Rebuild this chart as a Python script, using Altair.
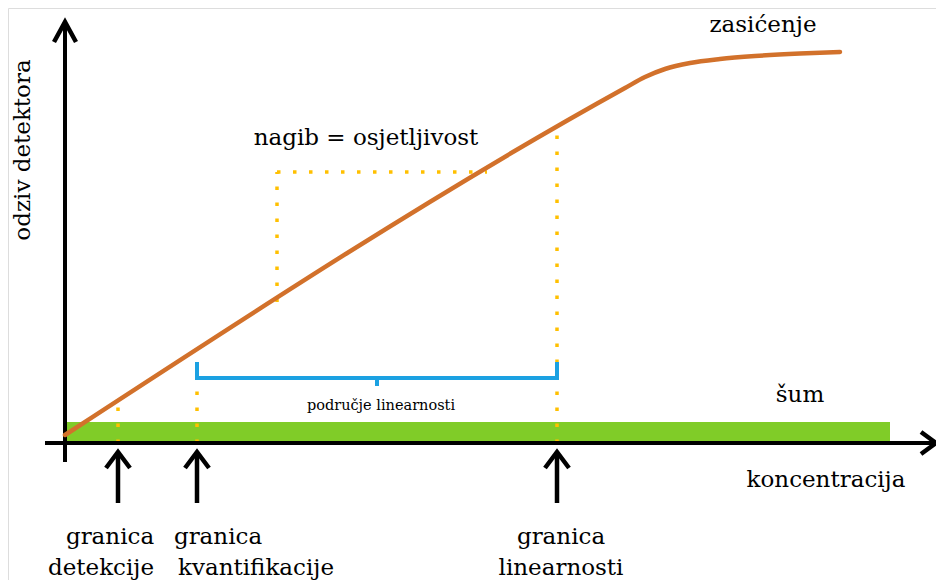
import altair as alt
import pandas as pd

# ---- schematic data (concentration units on x, detector response on y) ----
curve_x = [0, 560, 580, 600, 625, 655, 690, 735, 775]
curve_y = [8, 355, 366, 374, 380, 384, 387, 389.5, 391]

noise_x = [0, 825]
noise_y = [2, 21]

lod, loq, lol = 53, 132, 492
lod_sig, loq_sig, lol_sig = 38, 81, 313

slope_x = [212, 422]
slope_y = [141, 271]

bracket_y, bracket_top, bracket_mid, bracket_tip = 65, 81, 312, 57

XMIN, XMAX, YMIN, YMAX = -57, 871, -137, 435
FONT = "DejaVu Serif"

xs = alt.Scale(domain=[XMIN, XMAX], nice=False, zero=False)
ys = alt.Scale(domain=[YMIN, YMAX], nice=False, zero=False)


def X(f="x"):
    return alt.X(f"{f}:Q", scale=xs, axis=None)


def Y(f="y"):
    return alt.Y(f"{f}:Q", scale=ys, axis=None)


# noise band
band = alt.Chart(pd.DataFrame({"x": [noise_x[0]], "x2": [noise_x[1]],
                               "y": [noise_y[0]], "y2": [noise_y[1]]})).mark_rect(
    color="#80CC28").encode(x=X(), x2="x2:Q", y=Y(), y2="y2:Q")

# dotted guide lines
dots = pd.DataFrame({
    "x": [lod, loq, lol, slope_x[0], slope_x[0]],
    "x2": [lod, loq, lol, slope_x[0], slope_x[1]],
    "y": [0, 0, 0, slope_y[0], slope_y[1]],
    "y2": [lod_sig, loq_sig, lol_sig, slope_y[1], slope_y[1]],
})
dotted = alt.Chart(dots).mark_rule(color="#FFC000", strokeWidth=3.5,
                                   strokeDash=[3.5, 12.5]).encode(
    x=X(), x2="x2:Q", y=Y(), y2="y2:Q")

# axes (lines + arrowheads)
axes_df = pd.DataFrame({"x": [0, -20], "x2": [0, 870], "y": [-19, 0], "y2": [421, 0]})
axes = alt.Chart(axes_df).mark_rule(color="black", strokeWidth=4).encode(
    x=X(), x2="x2:Q", y=Y(), y2="y2:Q")

heads = []
def add(id_, pts):
    for i, (px, py) in enumerate(pts):
        heads.append({"id": id_, "o": i, "x": px, "y": py})

add("yax", [(-11, 401), (0, 421), (11, 401)])
add("xax", [(856, 11), (871, 0), (856, -11)])
for k, lim in enumerate([lod, loq, lol]):
    add(f"s{k}", [(lim, -60), (lim, -10)])
    add(f"h{k}", [(lim - 12, -25), (lim, -9), (lim + 12, -25)])

arrows = alt.Chart(pd.DataFrame(heads)).mark_line(
    color="black", strokeWidth=4.5, strokeJoin="miter").encode(
    x=X(), y=Y(), detail="id:N", order="o:Q")

# response curve
curve = alt.Chart(pd.DataFrame({"x": curve_x, "y": curve_y})).mark_line(
    color="#D2712B", strokeWidth=4.5, interpolate="monotone", strokeCap="round").encode(
    x=X(), y=Y())

# linear range bracket
br = pd.DataFrame({
    "id": ["a"] * 4 + ["b"] * 2,
    "o": [0, 1, 2, 3, 0, 1],
    "x": [loq, loq, lol, lol, bracket_mid, bracket_mid],
    "y": [bracket_top, bracket_y, bracket_y, bracket_top, bracket_y, bracket_tip],
})
bracket = alt.Chart(br).mark_line(color="#1BA1E2", strokeWidth=4,
                                  strokeJoin="miter").encode(
    x=X(), y=Y(), detail="id:N", order="o:Q")

# texts
big_labels = ["nagib = osjetljivost", "zasićenje", "šum", "koncentracija",
              "granica", "detekcije", "granica", "kvantifikacije",
              "granica", "linearnosti"]
big_x = [301, 698, 735, 761, 45, 36, 153, 191, 496, 496]
big_y = [298, 411, 41, -44, -101, -132, -101, -132, -101, -132]
big = alt.Chart(pd.DataFrame({"x": big_x, "y": big_y, "t": big_labels})).mark_text(
    font=FONT, fontSize=23, color="black", align="center", baseline="alphabetic").encode(
    x=X(), y=Y(), text="t:N")

small = alt.Chart(pd.DataFrame({"x": [316], "y": [33], "t": ["područje linearnosti"]})).mark_text(
    font=FONT, fontSize=14.5, color="black", align="center", baseline="alphabetic").encode(
    x=X(), y=Y(), text="t:N")

ylab = alt.Chart(pd.DataFrame({"x": [-42], "y": [293], "t": ["odziv detektora"]})).mark_text(
    font=FONT, fontSize=23, color="black", align="center", baseline="middle", angle=270).encode(
    x=X(), y=Y(), text="t:N")

chart = alt.layer(band, dotted, axes, arrows, curve, bracket, big, small, ylab).properties(
    width=928, height=572, padding=0,
    autosize=alt.AutoSizeParams(type="none"),
).configure_view(stroke=None).configure(background="white")

chart.save("out.html", embed_options={"renderer": "svg", "actions": False})
